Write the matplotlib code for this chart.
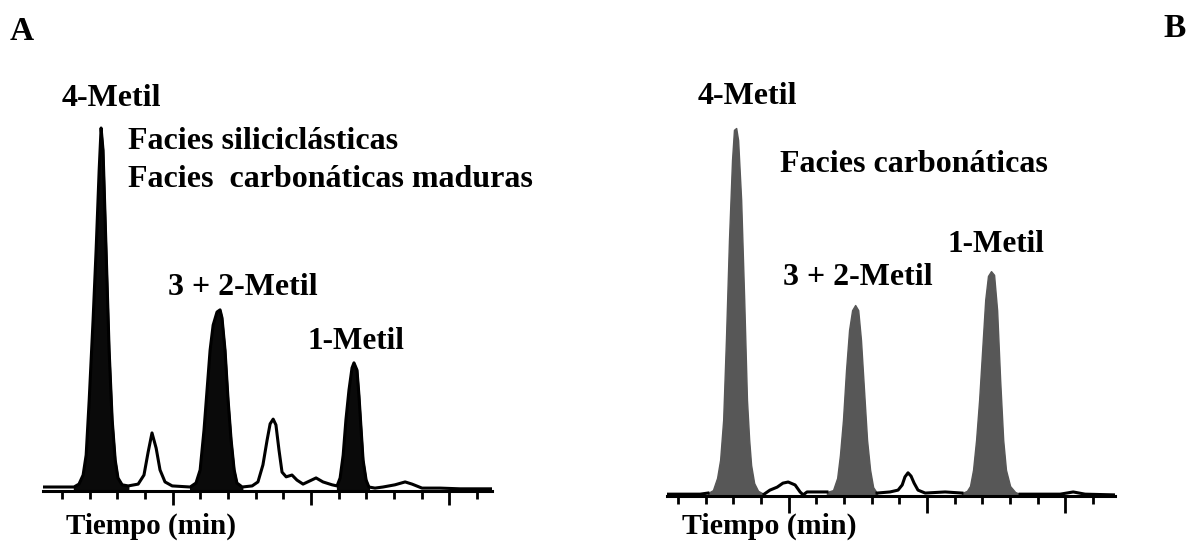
import numpy as np
import matplotlib.pyplot as plt

W, H = 1189, 542
plt.rcParams['font.family'] = ['Liberation Serif', 'DejaVu Serif']
plt.rcParams['font.weight'] = 'bold'

# Panel A: trace (time in min, signal in % of the 4-Metil peak)
a_time = [-0.69, 0.43, 0.61, 0.76, 0.87, 0.98, 1.12, 1.23, 1.34, 1.41, 1.48, 1.59, 1.70,
          1.81, 1.92, 2.02, 2.17, 2.39, 2.75, 2.96, 3.11, 3.25, 3.40, 3.54, 3.72, 3.98,
          4.63, 4.84, 4.99, 5.13, 5.24, 5.35, 5.46, 5.60, 5.71, 5.78, 5.89, 6.00, 6.11,
          6.22, 6.32, 6.51, 6.87, 7.08, 7.26, 7.41, 7.52, 7.63, 7.73, 7.84, 7.95, 8.10,
          8.31, 8.49, 8.71, 8.96, 9.18, 9.43, 9.76, 9.94, 10.05, 10.16, 10.26, 10.37,
          10.48, 10.55, 10.66, 10.73, 10.81, 10.88, 10.99, 11.09, 11.31, 11.60, 12.03,
          12.40, 12.65, 13.01, 13.66, 14.38, 15.54]
a_signal = [1.1, 1.1, 1.9, 4.4, 9.9, 25.1, 47.1, 66.4, 88.4, 100.0, 93.9, 66.4, 38.8,
            19.6, 8.5, 3.6, 1.7, 1.4, 1.9, 4.4, 10.7, 16.0, 11.8, 5.8, 2.5, 1.4,
            1.1, 2.2, 5.8, 16.8, 27.8, 38.8, 45.7, 49.3, 49.9, 47.7, 38.8, 25.1, 14.0,
            5.8, 2.2, 1.1, 1.4, 2.5, 7.2, 14.0, 18.5, 19.8, 18.2, 11.3, 5.2, 3.9,
            4.4, 3.0, 1.9, 2.8, 3.6, 2.5, 1.7, 1.4, 3.6, 9.9, 19.6, 27.8,
            33.9, 35.3, 33.3, 26.4, 16.8, 8.5, 3.0, 1.1, 0.8, 1.1, 1.7,
            2.5, 1.9, 0.8, 0.8, 0.6, 0.6]
a_peaks = [(0.43, 2.39), (4.63, 6.51), (9.94, 11.09)]

# Panel B
b_time = [-0.40, 0.80, 1.08, 1.26, 1.41, 1.52, 1.63, 1.73, 1.84, 1.95, 2.02, 2.10, 2.17,
          2.28, 2.39, 2.49, 2.57, 2.64, 2.75, 2.89, 3.11, 3.32, 3.58, 3.79, 3.98, 4.23,
          4.41, 4.52, 4.66, 5.38, 5.60, 5.75, 5.85, 5.96, 6.07, 6.18, 6.29, 6.40, 6.51,
          6.61, 6.72, 6.83, 6.94, 7.05, 7.19, 7.66, 7.95, 8.10, 8.20, 8.31, 8.42, 8.53,
          8.67, 8.93, 9.65, 10.26, 10.44, 10.55, 10.66, 10.77, 10.88, 10.99, 11.10,
          11.20, 11.31, 11.42, 11.53, 11.64, 11.75, 11.85, 12.00, 12.18, 12.36, 13.08,
          13.81, 14.28, 14.71, 15.79]
b_signal = [0.5, 0.5, 0.8, 1.6, 4.9, 9.8, 20.7, 42.4, 69.6, 91.3, 99.5, 100.0, 96.7,
            80.4, 53.3, 26.1, 15.2, 8.4, 3.5, 1.4, 0.5, 1.6, 2.4, 3.5, 3.8, 3.0,
            1.1, 0.3, 1.1, 1.1, 1.6, 4.9, 11.1, 20.7, 34.2, 45.1, 50.5, 51.9, 50.5,
            42.4, 28.8, 15.2, 7.1, 2.4, 0.8, 1.1, 1.6, 3.0, 5.2, 6.3, 5.4, 3.5,
            1.6, 0.8, 1.1, 0.8, 1.4, 2.7, 7.1, 15.2, 26.1, 39.7, 53.3,
            59.8, 61.1, 60.1, 50.5, 31.5, 15.2, 7.1, 2.7, 1.1, 0.5, 0.5,
            0.5, 1.1, 0.5, 0.3]
b_peaks = [(1.08, 3.11), (5.38, 7.19), (10.26, 12.36)]

ticks_all = list(range(16))
ticks_long = [4, 9, 14]


def px_axes(fig, x0, x1, y_base, height):
    return fig.add_axes([x0 / W, (H - y_base) / H, (x1 - x0) / W, height / H])


def draw_panel(ax, t, s, peaks, fill_color, outline_peaks, xlim, long_len, short_len):
    t = np.array(t)
    s = np.array(s)
    for t0, t1 in peaks:
        m = (t >= t0) & (t <= t1)
        ax.fill_between(t, s, 0, where=m, color=fill_color, lw=1.0,
                        edgecolor=fill_color, zorder=2)
    line = s.copy()
    if not outline_peaks:
        for t0, t1 in peaks:
            line[(t > t0) & (t < t1)] = np.nan
    ax.plot(t, line, color='black', lw=2.2, zorder=3, solid_joinstyle='round')
    ax.set_xlim(*xlim)
    ax.set_ylim(0, 105)
    for side in ['left', 'right', 'top']:
        ax.spines[side].set_visible(False)
    ax.spines['bottom'].set_linewidth(2.2)
    ax.set_yticks([])
    ax.set_xticks(ticks_long)
    ax.set_xticks([k for k in ticks_all if k not in ticks_long], minor=True)
    ax.tick_params(axis='x', which='major', length=long_len, width=2.0, direction='out',
                   labelbottom=False)
    ax.tick_params(axis='x', which='minor', length=short_len, width=2.0, direction='out')
    ax.patch.set_alpha(0)


fig = plt.figure(figsize=(W / 100, H / 100), dpi=100)

ax_a = px_axes(fig, 43, 492, 491, 105 * 3.63)
draw_panel(ax_a, a_time, a_signal, a_peaks, '#0a0a0a', True, (-0.69, 15.54), 10, 6)

ax_b = px_axes(fig, 667, 1115, 496, 105 * 3.68)
draw_panel(ax_b, b_time, b_signal, b_peaks, '#575757', False, (-0.40, 15.79), 12, 6)


def label(x, y, text, size=22.5):
    fig.text(x / W, 1 - y / H, text, fontsize=size, fontweight='bold',
             ha='left', va='baseline')


label(10, 40, 'A', 24)
label(1163, 37, 'B', 24)

label(62, 106, '4-Metil', 23)
label(128, 149, 'Facies siliciclásticas', 23)
label(128, 187, 'Facies  carbonáticas maduras', 23)
label(168, 295, '3 + 2-Metil', 23)
label(307, 349, '1-Metil')
label(66, 534, 'Tiempo (min)', 21)

label(698, 104, '4-Metil', 23)
label(780, 172, 'Facies carbonáticas', 23)
label(783, 285, '3 + 2-Metil', 23)
label(947, 252, '1-Metil')
label(682, 534, 'Tiempo (min)', 21.5)

fig.savefig('out.png', dpi=100)
